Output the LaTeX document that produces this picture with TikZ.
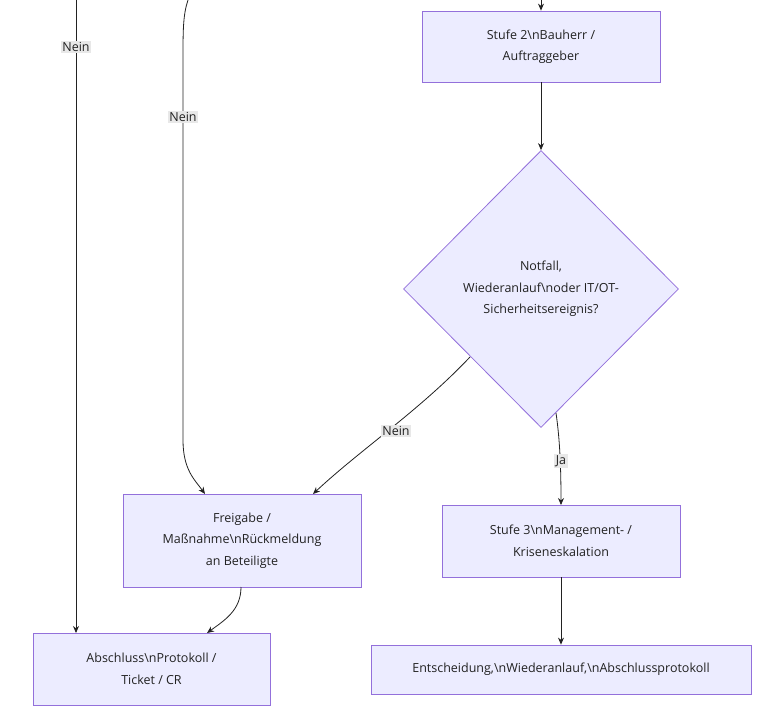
\documentclass[tikz,border=0pt]{standalone}
\usepackage{fontspec}
\setmainfont{Open Sans}
\usetikzlibrary{arrows.meta,shapes.geometric}
\definecolor{nfill}{HTML}{ECECFF}
\definecolor{nstroke}{HTML}{9370DB}
\definecolor{txt}{HTML}{222222}
\definecolor{lbl}{HTML}{E8E8E8}
\begin{document}
\begin{tikzpicture}[x=1pt,y=-1pt,
  box/.style={draw=nstroke,fill=nfill,line width=0.8pt,text=txt,font=\fontsize{12.5}{21.5}\selectfont,align=center,inner sep=0pt},
  edge/.style={draw=txt,line width=0.8pt,-{Stealth[length=7pt,width=6pt]}},
  elabel/.style={fill=lbl,text=txt,font=\fontsize{12.5}{14}\selectfont,inner sep=1.5pt}]
\useasboundingbox (0,0) rectangle (769,713);
\node[box,minimum width=238pt,minimum height=71pt] (s2) at (541,46.5) {Stufe 2\textbackslash nBauherr /\\Auftraggeber};
\node[box,diamond,minimum width=275pt,minimum height=277pt,aspect=1] (d) at (541,289) {Notfall,\\Wiederanlauf\textbackslash noder IT/OT-\\Sicherheitsereignis?};
\node[box,minimum width=238pt,minimum height=93pt] (fr) at (242,540.5) {Freigabe /\\Maßnahme\textbackslash nRückmeldung\\an Beteiligte};
\node[box,minimum width=238pt,minimum height=72pt] (s3) at (561,541) {Stufe 3\textbackslash nManagement- /\\Kriseneskalation};
\node[box,minimum width=237pt,minimum height=72pt] (ab) at (151.5,669) {Abschluss\textbackslash nProtokoll /\\Ticket / CR};
\node[box,minimum width=380pt,minimum height=49pt] (en) at (561,669.5) {Entscheidung,\textbackslash nWiederanlauf,\textbackslash nAbschlussprotokoll};
\coordinate (t1) at (541,0);
\coordinate (t2) at (76,0);
\coordinate (t3) at (188,0);
\draw[edge] (t1) -- (s2.north);
\draw[edge] (s2.south) -- (d.north);
\draw[edge] (t2) -- node[elabel,pos=0.074]{Nein} (76,633);
\draw[edge] (t3) .. controls (183,15) and (183,30) .. (183,60) -- (183,440) .. controls (183,470) and (195,480) .. (205,494);
\node[elabel] at (183,117) {Nein};
\draw[edge] (470,357) .. controls (420,410) and (360,450) .. (313,494);
\node[elabel] at (396,431) {Nein};
\draw[edge] (556,413) .. controls (560,440) and (561,470) .. (561,505);
\node[elabel] at (561,461) {Ja};
\draw[edge] (241,587) .. controls (241,610) and (225,620) .. (207,633);
\draw[edge] (s3.south) -- (en.north);
\end{tikzpicture}
\end{document}
